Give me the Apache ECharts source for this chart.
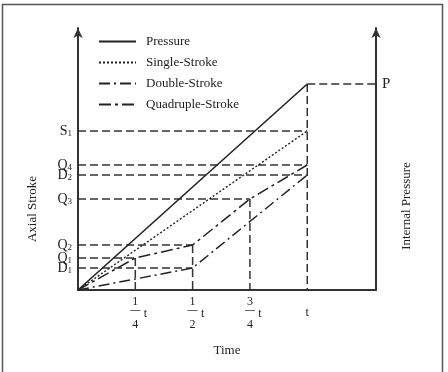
<!DOCTYPE html>
<html>
<head>
<meta charset="utf-8">
<script src="https://cdn.jsdelivr.net/npm/echarts@6/dist/echarts.min.js"></script>
<style>
  html, body { margin: 0; padding: 0; background: #ffffff; }
  #chart { width: 448px; height: 372px; }
</style>
</head>
<body>
<div id="chart"></div>
<script>
  // 数据：时间为 t 的分数，纵坐标为轴向行程 / 内压（任意单位）
  const seriesNames = ['Pressure', 'Single-Stroke', 'Double-Stroke', 'Quadruple-Stroke'];
  const pressureT = [0, 1];
  const pressureV = [0, 206];
  const singleT = [0, 1];
  const singleV = [0, 159];
  const doubleT = [0, 0.5, 1];
  const doubleV = [0, 22, 115];
  const quadT = [0, 0.25, 0.5, 0.75, 1];
  const quadV = [0, 32, 45, 91, 125];

  const yTickValues = [22, 32, 45, 91, 115, 125, 159];
  const yTickNames = ['D1', 'Q1', 'Q2', 'Q3', 'D2', 'Q4', 'S1'];
  const pTickValues = [206];
  const pTickNames = ['P'];
  const xTickValues = [0.25, 0.5, 0.75, 1];
  const xTickNum = ['1', '1', '3', ''];
  const xTickDen = ['4', '2', '4', ''];

  const xMax = 1.3;
  const yMax = 262;
  const ink = '#222';
  const serif = '"Liberation Serif", "DejaVu Serif", serif';

  function pairs(ts, vs) {
    return ts.map(function (t, i) { return [t, vs[i]]; });
  }

  const strokes = [
    { name: seriesNames[0], data: pairs(pressureT, pressureV), type: 'solid', width: 1.6 },
    { name: seriesNames[1], data: pairs(singleT, singleV), type: [2, 2], width: 1.4 },
    { name: seriesNames[2], data: pairs(doubleT, doubleV), type: [11, 4, 2, 4], width: 1.5 },
    { name: seriesNames[3], data: pairs(quadT, quadV), type: [12, 4, 3, 4], width: 1.5 }
  ];

  // 辅助虚线：水平线从纵轴到各点，竖线从每个时刻的最高点到横轴
  const guides = [];
  const topAt = {};
  strokes.forEach(function (s, k) {
    s.data.forEach(function (p) {
      if (p[0] === 0) return;
      if (k === 0) {
        guides.push([[p[0], p[1]], [xMax, p[1]]]);
      } else {
        guides.push([[0, p[1]], [p[0], p[1]]]);
      }
      if (topAt[p[0]] === undefined || topAt[p[0]] < p[1]) topAt[p[0]] = p[1];
    });
  });
  Object.keys(topAt).forEach(function (t) {
    guides.push([[Number(t), topAt[t]], [Number(t), 0]]);
  });

  const series = [];
  guides.forEach(function (g) {
    series.push({
      type: 'line',
      data: g,
      symbol: 'none',
      silent: true,
      z: 1,
      lineStyle: { color: '#333', width: 1.5, type: [8, 4] }
    });
  });
  strokes.forEach(function (s) {
    series.push({
      name: s.name,
      type: 'line',
      data: s.data,
      symbol: 'none',
      color: ink,
      z: 3,
      lineStyle: { color: ink, width: s.width, type: s.type }
    });
  });

  // 纵轴标签挨得太近，会被自动隐藏：隔一个放到两根重叠的轴上
  function strokeLabel(v) {
    const name = yTickNames[yTickValues.indexOf(v)];
    return '{b|' + name.charAt(0) + '}{s|' + name.slice(1) + '}';
  }
  const strokeRich = {
    b: { fontFamily: serif, fontSize: 14, lineHeight: 9, color: ink },
    s: { fontFamily: serif, fontSize: 9, lineHeight: 9, padding: [6, 0, 0, 0], color: ink }
  };
  function strokeAxis(values, showLine) {
    return {
      type: 'value',
      min: 0,
      max: yMax,
      position: 'left',
      splitLine: { show: false },
      axisTick: { show: false },
      axisLine: {
        show: showLine, onZero: false,
        symbol: ['none', 'arrow'], symbolSize: [7, 10],
        lineStyle: { color: '#333', width: 2 }
      },
      axisLabel: {
        margin: 6,
        showMinLabel: true,
        showMaxLabel: true,
        hideOverlap: false,
        customValues: values,
        formatter: strokeLabel,
        rich: strokeRich
      }
    };
  }
  const evenTicks = yTickValues.filter(function (v, i) { return i % 2 === 0; });
  const oddTicks = yTickValues.filter(function (v, i) { return i % 2 === 1; });

  let myChart = echarts.init(document.getElementById('chart'));

  myChart.setOption({
    animation: false,
    backgroundColor: '#ffffff',
    grid: { left: 78, right: 72, top: 28, bottom: 82 },
    legend: {
      data: seriesNames,
      orient: 'vertical',
      left: 93,
      top: 30,
      itemWidth: 37,
      itemHeight: 14,
      itemGap: 8,
      itemStyle: { opacity: 0 },
      textStyle: { fontFamily: serif, fontSize: 13, color: ink, padding: [0, 0, 0, 5] }
    },
    xAxis: {
      type: 'value',
      min: 0,
      max: xMax,
      name: 'Time',
      nameLocation: 'middle',
      nameGap: 54,
      nameTextStyle: { fontFamily: serif, fontSize: 13, color: ink },
      splitLine: { show: false },
      axisTick: { show: false },
      axisLine: { show: true, onZero: false, lineStyle: { color: '#333', width: 2 } },
      axisLabel: {
        margin: 8,
        showMinLabel: true,
        showMaxLabel: true,
        hideOverlap: false,
        customValues: xTickValues,
        fontFamily: serif,
        color: ink,
        formatter: function (v) {
          const i = xTickValues.indexOf(v);
          if (xTickNum[i] === '') return '{n| }\n{tc|t}\n{d| }';
          return '{sp| }{n|' + xTickNum[i] + '}{sp| }\n{sp| }{bar|\u2014}{t|t}\n{sp| }{d|' + xTickDen[i] + '}{sp| }';
        },
        rich: {
          sp: { width: 10, fontSize: 12, lineHeight: 8 },
          n: { fontFamily: serif, fontSize: 12, lineHeight: 8, width: 10, align: 'center', color: ink },
          bar: { fontFamily: serif, fontSize: 10, fontWeight: 'bold', lineHeight: 12, padding: [0, 0, 4, 0], width: 10, align: 'center', color: '#333' },
          t: { fontFamily: serif, fontSize: 12, lineHeight: 12, padding: [4, 0, 0, 0], width: 10, align: 'center', color: ink },
          tc: { fontFamily: serif, fontSize: 12, lineHeight: 12, padding: [2, 0, 0, 0], color: ink },
          d: { fontFamily: serif, fontSize: 12, lineHeight: 14, width: 10, align: 'center', color: ink }
        }
      }
    },
    yAxis: [
      strokeAxis(evenTicks, true),
      {
        type: 'value',
        min: 0,
        max: yMax,
        position: 'right',
        splitLine: { show: false },
        axisTick: { show: false },
        axisLine: {
          show: true, onZero: false,
          symbol: ['none', 'arrow'], symbolSize: [7, 10],
          lineStyle: { color: '#333', width: 2 }
        },
        axisLabel: {
          margin: 6,
          showMinLabel: true,
          showMaxLabel: true,
          customValues: pTickValues,
          fontFamily: serif,
          fontSize: 15,
          color: ink,
          formatter: function (v) { return pTickNames[pTickValues.indexOf(v)]; }
        }
      },
      strokeAxis(oddTicks, false)
    ],
    graphic: [
      {
        type: 'rect',
        shape: { x: 2.5, y: 4.5, width: 440, height: 372 },
        style: { fill: 'none', stroke: '#555', lineWidth: 1.5 },
        silent: true
      },
      {
        type: 'text',
        x: 33, y: 209, rotation: Math.PI / 2,
        style: { text: 'Axial Stroke', font: '13px ' + serif, fill: ink, align: 'center', verticalAlign: 'middle' }
      },
      {
        type: 'text',
        x: 407, y: 206, rotation: Math.PI / 2,
        style: { text: 'Internal Pressure', font: '13px ' + serif, fill: ink, align: 'center', verticalAlign: 'middle' }
      }
    ],
    series: series
  });
</script>
</body>
</html>
